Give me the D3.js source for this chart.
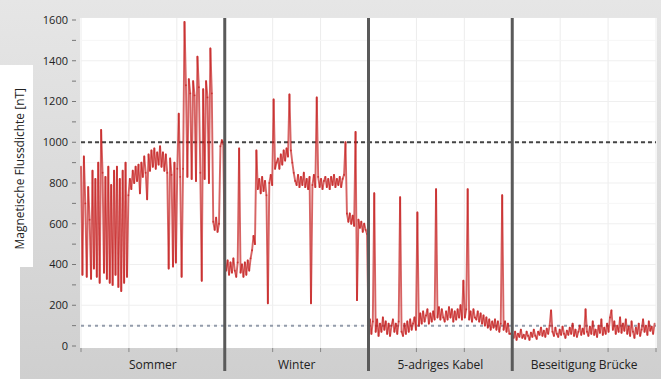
<!DOCTYPE html>
<html>
<head>
<meta charset="utf-8">
<script src="https://cdn.jsdelivr.net/npm/d3@7"></script>
<style>
  body { margin: 0; background: #fff; }
  svg { display: block; font-family: 'Open Sans', sans-serif; }
</style>
</head>
<body>
<svg id="chart" width="661" height="379"></svg>
<script>
// measurement phases (one block of 100 samples each)
const phases = ['Sommer', 'Winter', '5-adriges Kabel', 'Beseitigung Brücke']

const sommer = [
    880, 350, 930, 700, 340, 780, 620, 330, 860, 380, 820, 340, 900, 310, 1060, 850, 360, 830, 330, 880,
    310, 790, 300, 860, 350, 880, 290, 820, 270, 860, 310, 900, 340, 740, 820, 770, 860, 800, 880, 810,
    890, 750, 900, 830, 930, 850, 720, 940, 860, 960, 880, 970, 870, 950, 890, 980, 880, 950, 860, 940,
    850, 380, 920, 840, 390, 900, 410, 870, 1140, 830, 340, 870, 1590, 1280, 830, 1310, 1240, 820, 1300, 1230,
    810, 1420, 1270, 850, 320, 1260, 820, 1300, 1220, 800, 1460, 1240, 610, 570, 630, 560, 600, 980, 1010, 990
]
const winter = [
    430, 370, 420, 350, 410, 360, 430, 370, 340, 410, 970, 360, 400, 340, 410, 350, 420, 370, 430, 470,
    540, 500, 960, 770, 820, 750, 830, 760, 810, 740, 210, 800, 840, 790, 1210, 870, 900, 920, 870, 940,
    890, 960, 910, 970, 930, 1235, 960, 900, 850, 810, 790, 840, 780, 830, 790, 850, 780, 820, 770, 830,
    210, 790, 840, 780, 1220, 830, 780, 820, 770, 810, 830, 780, 820, 770, 830, 790, 840, 780, 820, 790,
    830, 780, 820, 840, 1000, 650, 610, 650, 600, 640, 590, 1050, 225, 620, 580, 610, 560, 600, 570, 550
]
const kabel = [
    90, 130, 60, 120, 750, 70, 130, 50, 110, 70, 140, 80, 120, 60, 110, 50, 100, 130, 70, 110,
    60, 120, 730, 70, 50, 110, 60, 120, 70, 130, 80, 110, 140, 80, 655, 100, 160, 110, 170, 120,
    150, 180, 110, 160, 120, 170, 130, 770, 140, 190, 130, 180, 140, 120, 170, 130, 190, 140, 180, 120,
    170, 130, 180, 140, 200, 130, 320, 140, 180, 770, 130, 170, 120, 180, 140, 130, 170, 120, 160, 110,
    150, 100, 140, 90, 130, 80, 120, 90, 130, 80, 120, 70, 110, 740, 80, 120, 70, 110, 60, 60
]
const bruecke = [
    60, 40, 70, 30, 60, 45, 80, 40, 55, 35, 70, 50, 30, 65, 45, 80, 50, 35, 70, 55,
    90, 50, 75, 45, 85, 60, 100, 175, 70, 50, 90, 60, 45, 80, 55, 95, 60, 40, 75, 55,
    90, 60, 110, 50, 80, 45, 70, 100, 55, 85, 60, 180, 70, 50, 95, 60, 120, 55, 80, 45,
    100, 65, 130, 55, 90, 60, 110, 70, 140, 175, 80, 120, 60, 100, 70, 140, 65, 110, 75, 130,
    60, 95, 50, 120, 70, 40, 90, 60, 110, 50, 80, 130, 70, 100, 55, 120, 75, 95, 60, 110
]

const yTicks = [0, 200, 400, 600, 800, 1000, 1200, 1400, 1600]
const limits = [1000, 100]   // dashed reference lines [nT]
const yTitle = 'Magnetische Flussdichte [nT]'

const series = [sommer, winter, kabel, bruecke]
    .flatMap((arr, k) => arr.map((v, i) => ({ t: k * 100 + i, v })))

const svg = d3.select('#chart')
const W = 661, H = 379
const margin = { left: 81, right: 5, top: 20, bottom: 33 }

const x = d3.scaleLinear().domain([0, 400]).range([margin.left, W - margin.right])
const y = d3.scaleLinear().domain([0, 1600]).range([H - margin.bottom, margin.top])

// background
const grad = svg.append('defs').append('linearGradient')
    .attr('id', 'bg').attr('x1', 0).attr('y1', 0).attr('x2', 0).attr('y2', 1)
grad.append('stop').attr('offset', '0%').attr('stop-color', '#e6e6e6')
grad.append('stop').attr('offset', '100%').attr('stop-color', '#cfcfcf')
svg.append('rect').attr('width', W).attr('height', H).attr('fill', 'url(#bg)')
svg.append('rect').attr('x', 0).attr('y', 65).attr('width', 20).attr('height', H - 65).attr('fill', '#fff')
svg.append('rect').attr('x', 0).attr('y', 65).attr('width', 33).attr('height', 202).attr('fill', '#fff')

// plot area
svg.append('rect')
    .attr('x', x(0) - 1).attr('y', y(1610))
    .attr('width', x(400) - x(0) + 2).attr('height', y(-10) - y(1610))
    .attr('fill', '#fff')

const xTicks = d3.range(0, 401, 100 / 3)

// faint grid
svg.append('g').selectAll('line').data(xTicks).join('line')
    .attr('x1', d => x(d)).attr('x2', d => x(d))
    .attr('y1', y(1610)).attr('y2', y(-10))
    .attr('stroke', '#ececec')
svg.append('g').selectAll('line').data(d3.range(100, 1600, 100)).join('line')
    .attr('x1', x(0)).attr('x2', x(400))
    .attr('y1', d => y(d)).attr('y2', d => y(d))
    .attr('stroke', d => d % 200 ? '#f6f6f6' : '#efefef')

// y axis
const yAxis = svg.append('g').attr('font-size', 11).attr('fill', '#222')
yAxis.selectAll('line').data(d3.range(0, 1601, 100)).join('line')
    .attr('x1', 72).attr('x2', 76)
    .attr('y1', d => y(d)).attr('y2', d => y(d))
    .attr('stroke', '#777')
yAxis.selectAll('text').data(yTicks).join('text')
    .attr('x', 68).attr('y', d => y(d)).attr('dy', '0.35em')
    .attr('text-anchor', 'end')
    .text(d => d)

svg.append('text')
    .attr('transform', `translate(24, ${y(870)}) rotate(-90)`)
    .attr('text-anchor', 'middle')
    .attr('font-size', 12).attr('fill', '#222')
    .text(yTitle)

// x ticks
svg.append('g').selectAll('line').data(xTicks).join('line')
    .attr('x1', d => x(d)).attr('x2', d => x(d))
    .attr('y1', y(-10)).attr('y2', y(-10) + 4)
    .attr('stroke', '#888')

// reference lines
svg.append('line')
    .attr('x1', x(0)).attr('x2', x(400))
    .attr('y1', y(limits[0])).attr('y2', y(limits[0]))
    .attr('stroke', '#444').attr('stroke-width', 2).attr('stroke-dasharray', '4,3')
svg.append('line')
    .attr('x1', x(0)).attr('x2', x(400))
    .attr('y1', y(limits[1])).attr('y2', y(limits[1]))
    .attr('stroke', '#939cab').attr('stroke-width', 2).attr('stroke-dasharray', '3,4')

// measurement trace: one segment per sample step, so that dense
// noise overlaps and darkens while lone spikes stay light
const steps = d3.pairs(series)
svg.append('g')
    .attr('stroke', '#c41a1a')
    .attr('stroke-width', 1.9)
    .attr('stroke-opacity', 0.68)
    .attr('stroke-linecap', 'round')
    .selectAll('line').data(steps).join('line')
    .attr('x1', d => x(d[0].t)).attr('y1', d => y(d[0].v))
    .attr('x2', d => x(d[1].t)).attr('y2', d => y(d[1].v))

// phase dividers
svg.append('g').selectAll('line').data([100, 200, 300]).join('line')
    .attr('x1', d => x(d)).attr('x2', d => x(d))
    .attr('y1', y(1610)).attr('y2', H - 8)
    .attr('stroke', '#5a5a5a').attr('stroke-width', 3)

// phase labels
svg.append('g').selectAll('text').data(phases).join('text')
    .attr('x', (d, i) => x(i * 100 + 50))
    .attr('y', H - 10)
    .attr('text-anchor', 'middle')
    .attr('font-size', 12).attr('fill', '#222')
    .text(d => d)
</script>
</body>
</html>
